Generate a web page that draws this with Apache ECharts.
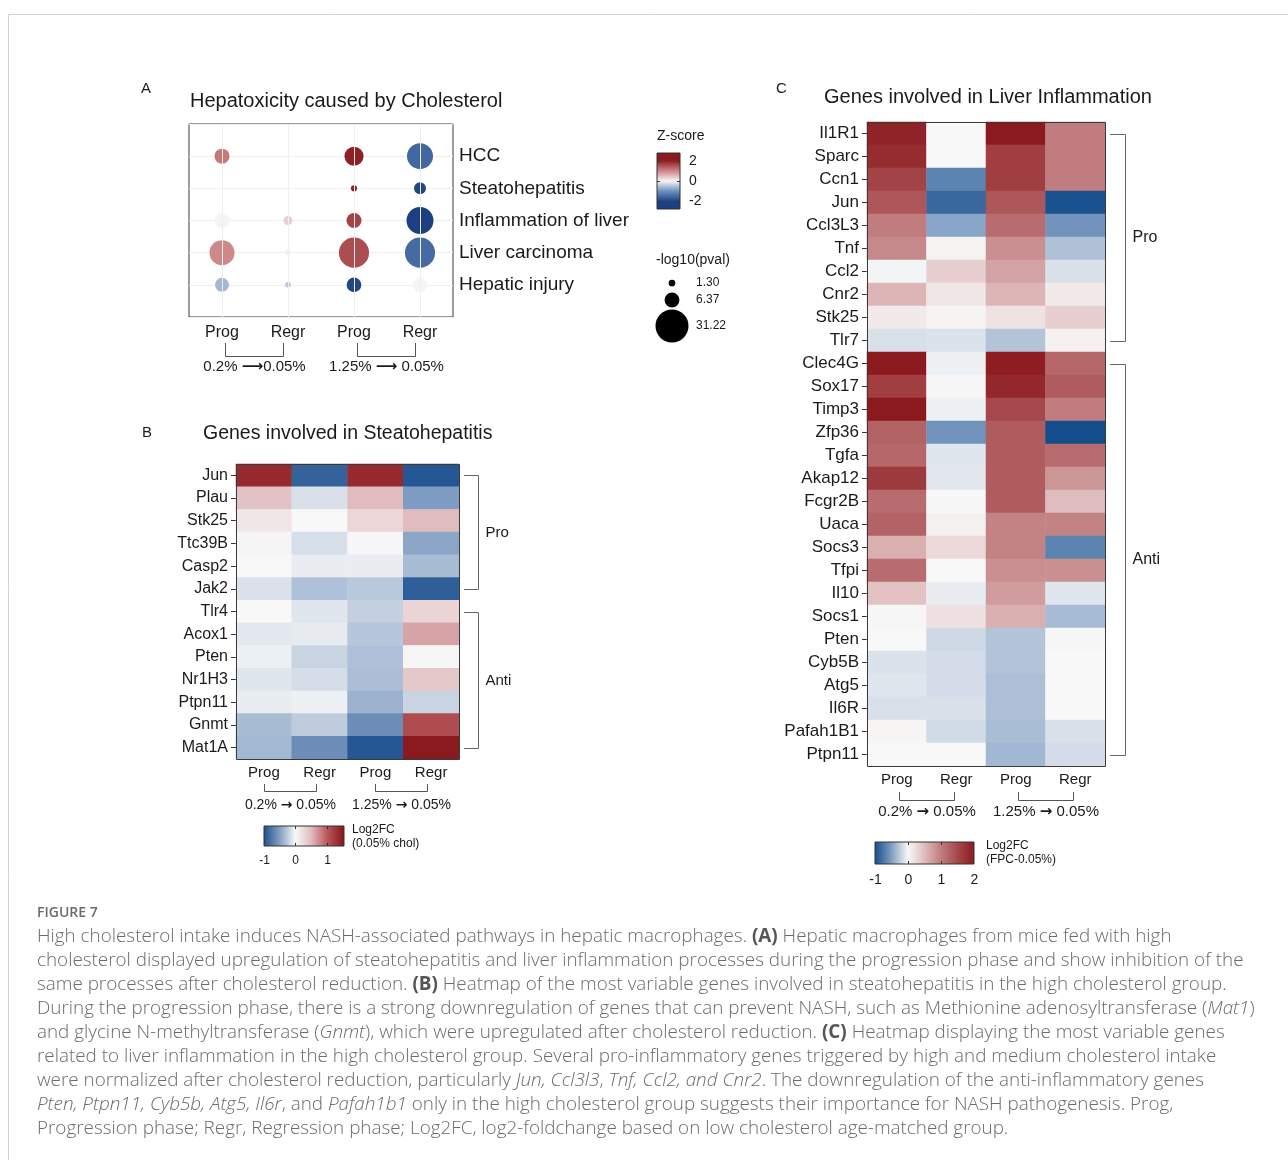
<!DOCTYPE html>
<html><head><meta charset="utf-8">
<script src="https://cdn.jsdelivr.net/npm/echarts@6/dist/echarts.min.js"></script>
<style>html,body{margin:0;padding:0;background:#fff}#c{width:1288px;height:1160px}</style>
</head><body><div id="c"></div>
<script>
// ---------------- DATA ----------------
// Panel A: bubble chart
const aColumns = ['Prog 0.2', 'Regr 0.2', 'Prog 1.25', 'Regr 1.25'];
const colLabels = ['Prog', 'Regr', 'Prog', 'Regr'];
const aTerms = ['HCC', 'Steatohepatitis', 'Inflammation of liver', 'Liver carcinoma', 'Hepatic injury'];
// -log10(pval), rows = terms, cols = columns (null = no dot)
const aPval = [
  [6.5, null, 10.4, 19.4],
  [null, null, 1.1, 4.1],
  [6.5, 2.3, 6.5, 20.9],
  [18.0, 0.8, 26.0, 26.0],
  [5.6, 0.9, 6.2, 6.5]
];
// Z-score
const aZ = [
  [1.1, null, 1.95, -1.5],
  [null, null, 1.9, -1.9],
  [0.0, 0.32, 1.6, -2.0],
  [0.95, -0.05, 1.5, -1.45],
  [-0.6, -0.45, -1.9, 0.0]
];
const sizeLegendValues = [1.30, 6.37, 31.22];
const zTicks = [2, 0, -2];

// Panel B: Steatohepatitis heatmap (Log2FC)
const bGenes = ['Jun','Plau','Stk25','Ttc39B','Casp2','Jak2','Tlr4','Acox1','Pten','Nr1H3','Ptpn11','Gnmt','Mat1A'];
const bValues = [
  [1.37, -0.87, 1.37, -0.95],
  [0.45, -0.13, 0.5, -0.5],
  [0.15, 0.0, 0.28, 0.5],
  [0.03, -0.14, 0.02, -0.45],
  [0.0, -0.06, -0.06, -0.33],
  [-0.12, -0.3, -0.26, -0.9],
  [0.0, -0.1, -0.22, 0.3],
  [-0.09, -0.07, -0.27, 0.62],
  [-0.05, -0.2, -0.3, 0.02],
  [-0.1, -0.15, -0.32, 0.4],
  [-0.06, -0.04, -0.38, -0.2],
  [-0.33, -0.24, -0.6, 1.1],
  [-0.35, -0.6, -0.95, 1.5]
];
const bGroups = [{name:'Pro', from:'Jun', to:'Jak2'}, {name:'Anti', from:'Tlr4', to:'Mat1A'}];
const bTicks = [-1, 0, 1];

// Panel C: Liver inflammation heatmap (Log2FC)
const cGenes = ['Il1R1','Sparc','Ccn1','Jun','Ccl3L3','Tnf','Ccl2','Cnr2','Stk25','Tlr7',
  'Clec4G','Sox17','Timp3','Zfp36','Tgfa','Akap12','Fcgr2B','Uaca','Socs3','Tfpi','Il10','Socs1',
  'Pten','Cyb5B','Atg5','Il6R','Pafah1B1','Ptpn11'];
const cValues = [
  [1.9, 0.0, 2.0, 1.0],
  [1.8, 0.0, 1.6, 1.0],
  [1.55, -0.65, 1.6, 1.0],
  [1.35, -0.82, 1.35, -0.97],
  [1.0, -0.45, 1.15, -0.55],
  [0.9, 0.05, 0.85, -0.3],
  [-0.02, 0.35, 0.7, -0.13],
  [0.55, 0.15, 0.55, 0.12],
  [0.12, 0.04, 0.18, 0.35],
  [-0.13, -0.12, -0.28, 0.06],
  [2.0, -0.04, 1.95, 1.2],
  [1.6, 0.02, 1.85, 1.3],
  [2.0, -0.04, 1.5, 1.0],
  [1.25, -0.55, 1.3, -1.0],
  [1.2, -0.1, 1.3, 1.15],
  [1.65, -0.09, 1.3, 0.8],
  [1.15, 0.01, 1.3, 0.5],
  [1.25, 0.06, 0.95, 0.95],
  [0.6, 0.25, 0.95, -0.65],
  [1.15, 0.0, 0.85, 0.85],
  [0.45, -0.06, 0.75, -0.1],
  [-0.01, 0.2, 0.6, -0.33],
  [0.0, -0.17, -0.28, 0.02],
  [-0.12, -0.15, -0.28, 0.0],
  [-0.1, -0.15, -0.31, 0.0],
  [-0.13, -0.13, -0.31, 0.0],
  [0.03, -0.16, -0.32, -0.13],
  [0.0, 0.0, -0.35, -0.15]
];
const cGroups = [{name:'Pro', from:'Il1R1', to:'Tlr7'}, {name:'Anti', from:'Clec4G', to:'Ptpn11'}];
const cTicks = [-1, 0, 1, 2];

const pairLabelsA = ['0.2% {a|\u27F6}0.05%', '1.25% {a|\u27F6} 0.05%'];
const pairLabels = ['0.2% {a|\u2192} 0.05%', '1.25% {a|\u2192} 0.05%'];

const captionLines = [
  'High cholesterol intake induces NASH-associated pathways in hepatic macrophages. {b|(A)} Hepatic macrophages from mice fed with high',
  'cholesterol displayed upregulation of steatohepatitis and liver inflammation processes during the progression phase and show inhibition of the',
  'same processes after cholesterol reduction. {b|(B)} Heatmap of the most variable genes involved in steatohepatitis in the high cholesterol group.',
  'During the progression phase, there is a strong downregulation of genes that can prevent NASH, such as Methionine adenosyltransferase ({i|Mat1})',
  'and glycine N-methyltransferase ({i|Gnmt}), which were upregulated after cholesterol reduction. {b|(C)} Heatmap displaying the most variable genes',
  'related to liver inflammation in the high cholesterol group. Several pro-inflammatory genes triggered by high and medium cholesterol intake',
  'were normalized after cholesterol reduction, particularly {i|Jun, Ccl3l3}, {i|Tnf, Ccl2, and Cnr2}. The downregulation of the anti-inflammatory genes',
  '{i|Pten, Ptpn11, Cyb5b, Atg5, Il6r}, and {i|Pafah1b1} only in the high cholesterol group suggests their importance for NASH pathogenesis. Prog,',
  'Progression phase; Regr, Regression phase; Log2FC, log2-foldchange based on low cholesterol age-matched group.'
];

// ---------------- STYLE ----------------
const FONT = '"Liberation Sans", Arial, Helvetica, sans-serif';
const CAPFONT = '"Open Sans", "Noto Sans", sans-serif';
const TXT = '#1a1a1a';
const zColors = ['#1b3f80', '#6a8fbf', '#f5f5f7', '#cc8284', '#8b1a1e']; // -2..2
const bColors = ['#1a4f8e', '#7f9dc2', '#f8f8f8', '#e0bcbe', '#b8585c', '#8b1a1e']; // -1..1.5
const cColors = ['#134d8b', '#7d9cc1', '#f8f8f8', '#dfbcbd', '#c07c7e', '#a5474b', '#8b1a1e']; // -1..2

const gA = {left:189, top:124, width:264, height:193};
const gB = {left:236, top:464, width:223, height:295};
const gC = {left:867, top:122, width:238, height:644};

const sizeOf = v => 5.9 * Math.sqrt(v);

// build data
const aData = [];
aPval.forEach((row, r) => row.forEach((p, c) => { if (p !== null) aData.push([c, r + 1, p, aZ[r][c]]); }));
const bData = [];
bValues.forEach((row, r) => row.forEach((v, c) => bData.push([c, bGenes[r], v])));
const cData = [];
cValues.forEach((row, r) => row.forEach((v, c) => cData.push([c, cGenes[r], v])));

const chart = echarts.init(document.getElementById('c'));

function catX(gridIdx, extra) {
  return Object.assign({
    type: 'category', gridIndex: gridIdx, data: aColumns,
    axisLine: {show: false}, axisTick: {show: false}, splitLine: {show: false},
    axisLabel: {formatter: (v, i) => colLabels[i], color: TXT, fontFamily: FONT, fontSize: 15, margin: 6, interval: 0}
  }, extra || {});
}
function geneY(gridIdx, genes, size) {
  return {
    type: 'category', gridIndex: gridIdx, data: genes, inverse: true,
    axisLine: {show: false},
    axisTick: {show: true, length: 5, alignWithLabel: true, interval: 0, lineStyle: {color: '#333'}},
    axisLabel: {color: TXT, fontFamily: FONT, fontSize: size, margin: 8, interval: 0},
    splitLine: {show: false}
  };
}

const option = {
  animation: false,
  backgroundColor: '#fff',
  grid: [
    Object.assign({show: true, borderColor: '#3a3a3a', borderWidth: 1, backgroundColor: 'transparent', outerBoundsMode: 'none'}, gA),
    Object.assign({show: false, outerBoundsMode: 'none'}, gB),
    Object.assign({show: false, outerBoundsMode: 'none'}, gC)
  ],
  xAxis: [
    catX(0, {
      axisTick: {show: true, alignWithLabel: true, length: 5, inside: false, lineStyle: {color: '#333'}},
      axisLabel: {formatter: (v, i) => colLabels[i], color: TXT, fontFamily: FONT, fontSize: 16, margin: 8, interval: 0}
    }),
    catX(1),
    catX(2, {axisLabel: {formatter: (v, i) => colLabels[i], color: TXT, fontFamily: FONT, fontSize: 15, margin: 6, interval: 0}})
  ],
  yAxis: [
    {
      type: 'value', gridIndex: 0, min: 0, max: 6, interval: 1, inverse: true, position: 'right',
      axisLine: {show: false}, axisTick: {show: false},
      splitLine: {show: true, lineStyle: {color: '#efefef', width: 1}},
      axisLabel: {formatter: v => aTerms[v - 1] || '', color: TXT, fontFamily: FONT, fontSize: 19, margin: 6, align: 'left'}
    },
    geneY(1, bGenes, 16),
    geneY(2, cGenes, 17)
  ],
  visualMap: [
    {type: 'continuous', show: false, seriesIndex: 1, dimension: 3, min: -2, max: 2, inRange: {color: zColors}},
    {type: 'continuous', show: false, seriesIndex: 2, dimension: 2, min: -1, max: 1.5, inRange: {color: bColors}},
    {type: 'continuous', show: false, seriesIndex: 3, dimension: 2, min: -1, max: 2, inRange: {color: cColors}}
  ],
  series: [
    {
      type: 'scatter', xAxisIndex: 0, yAxisIndex: 0, data: [], z: 1, silent: true,
      markLine: {
        silent: true, symbol: ['none', 'none'], label: {show: false},
        lineStyle: {color: '#efefef', type: 'solid', width: 1},
        emphasis: {disabled: true},
        data: aColumns.map(c => ({xAxis: c}))
      }
    },
    {
      type: 'scatter', xAxisIndex: 0, yAxisIndex: 0, z: 3, data: aData,
      symbolSize: v => sizeOf(v[2]),
      itemStyle: {opacity: 1},
      emphasis: {disabled: true}
    },
    {
      type: 'heatmap', xAxisIndex: 1, yAxisIndex: 1, data: bData,
      itemStyle: {borderWidth: 0}, emphasis: {disabled: true}
    },
    {
      type: 'heatmap', xAxisIndex: 2, yAxisIndex: 2, data: cData,
      itemStyle: {borderWidth: 0}, emphasis: {disabled: true}
    }
  ]
};
chart.setOption(option);

// ---------------- ANNOTATIONS ----------------
const G = [];
function txt(x, y, text, size, opts) {
  G.push({type: 'text', x: x, y: y, z: 50, silent: true,
    style: Object.assign({text: text, fontFamily: FONT, fontSize: size, fill: TXT, align: 'left', verticalAlign: 'middle'}, opts || {})});
}
function poly(points, color, z) {
  G.push({type: 'polyline', z: z || 50, silent: true, shape: {points: points},
    style: {stroke: color || '#555', lineWidth: 1, fill: null}});
}
function colX(gridIndex, i) { return chart.convertToPixel({gridIndex: gridIndex}, [i, gridIndex === 0 ? 1 : 0])[0]; }
function rowY(gridIndex, gene) { return chart.convertToPixel({gridIndex: gridIndex}, [0, gene])[1]; }

// frame
G.push({type: 'rect', z: 0, silent: true, shape: {x: 8.5, y: 14.5, width: 1300, height: 1200}, style: {fill: null, stroke: '#d4d4d4', lineWidth: 1}});

// panel letters and titles
txt(141, 89, 'A', 15);
txt(190, 101, 'Hepatoxicity caused by Cholesterol', 20);
txt(142, 433, 'B', 15);
txt(203, 434, 'Genes involved in Steatohepatitis', 19.5);
txt(776, 89, 'C', 15);
txt(824, 97, 'Genes involved in Liver Inflammation', 20);

// borders of heatmaps
[gB, gC].forEach(g => G.push({type: 'rect', z: 40, silent: true,
  shape: {x: g.left + 0.5, y: g.top + 0.5, width: g.width, height: g.height},
  style: {fill: null, stroke: '#3a3a3a', lineWidth: 1}}));

// column pair brackets
function pairBrackets(gridIndex, yTop, yBot, yText, labels, size, inL, inR) {
  [[0, 1], [2, 3]].forEach((p, k) => {
    const x0 = Math.round(colX(gridIndex, p[0]) + inL) + 0.5;
    const x1 = Math.round(colX(gridIndex, p[1]) - inR) + 0.5;
    poly([[x0, yTop], [x0, yBot], [x1, yBot], [x1, yTop]], '#555');
    txt((x0 + x1) / 2, yText, labels[k], size, {align: 'center',
      rich: {a: {fontFamily: '"DejaVu Sans", sans-serif', fontSize: size, fill: TXT, fontWeight: 'bold'}}});
  });
}
pairBrackets(0, 343, 356.5, 367, pairLabelsA, 15, 3, 5);
pairBrackets(1, 784, 791.5, 805, pairLabels, 14, 0, 4);
pairBrackets(2, 792, 800.5, 812, pairLabels, 15, 2, 2);

// gene group brackets
function groupBrackets(gridIndex, g, groups, xOff, size) {
  const right = g.left + g.width;
  const xv = Math.round(right + xOff) + 0.5;
  groups.forEach(gr => {
    const y0 = Math.round(rowY(gridIndex, gr.from)) + 0.5;
    const y1 = Math.round(rowY(gridIndex, gr.to)) + 0.5;
    poly([[right + 5, y0], [xv, y0], [xv, y1], [right + 5, y1]], '#666');
    txt(xv + 7, (y0 + y1) / 2, gr.name, size);
  });
}
groupBrackets(1, gB, bGroups, 19, 15);
groupBrackets(2, gC, cGroups, 20, 16);

// colour bars
function stopsFor(colors, vmin, vmax, barMin, barMax, reverse) {
  const n = colors.length, stops = [];
  const off = v => { const o = (v - barMin) / (barMax - barMin); return reverse ? 1 - o : o; };
  const list = colors.map((c, i) => ({v: vmin + i * (vmax - vmin) / (n - 1), c: c}));
  if (barMin < vmin) list.unshift({v: barMin, c: colors[0]});
  if (barMax > vmax) list.push({v: barMax, c: colors[n - 1]});
  list.forEach(s => stops.push({offset: Math.max(0, Math.min(1, off(s.v))), color: s.c}));
  stops.sort((a, b) => a.offset - b.offset);
  return stops;
}
// Z-score (vertical)
(function () {
  const x = 657, y = 153, w = 23, h = 56, bmin = -2.75, bmax = 2.75;
  txt(657, 136, 'Z-score', 14);
  G.push({type: 'rect', z: 30, silent: true, shape: {x: x, y: y, width: w, height: h},
    style: {fill: {type: 'linear', x: 0, y: 0, x2: 0, y2: 1, colorStops: stopsFor(zColors, -2, 2, bmin, bmax, true)}, stroke: '#333', lineWidth: 1}});
  zTicks.forEach(t => {
    const ty = Math.round(y + (bmax - t) / (bmax - bmin) * h) + 0.5;
    poly([[x, ty], [x + 3, ty]], '#333', 31);
    poly([[x + w - 3, ty], [x + w, ty]], '#333', 31);
    txt(x + w + 9, ty, String(t), 14);
  });
  txt(656, 260, '-log10(pval)', 14);
  const cy = [283, 300, 326];
  sizeLegendValues.forEach((v, i) => {
    G.push({type: 'circle', z: 30, silent: true, shape: {cx: 672, cy: cy[i], r: sizeOf(v) / 2}, style: {fill: '#000'}});
    txt(696, cy[i], v.toFixed(2), 12);
  });
})();
// horizontal colour bars
function hBar(x, y, w, h, colors, vmin, vmax, bmin, bmax, ticks, tickY, tickSize, t1, t2, tx) {
  G.push({type: 'rect', z: 30, silent: true, shape: {x: x, y: y, width: w, height: h},
    style: {fill: {type: 'linear', x: 0, y: 0, x2: 1, y2: 0, colorStops: stopsFor(colors, vmin, vmax, bmin, bmax, false)}, stroke: '#333', lineWidth: 1}});
  ticks.forEach(t => {
    const tx0 = Math.round(x + (t - bmin) / (bmax - bmin) * w) + 0.5;
    if (tx0 > x + 1 && tx0 < x + w - 1) {
      poly([[tx0, y], [tx0, y + 3]], '#333', 31);
      poly([[tx0, y + h - 3], [tx0, y + h]], '#333', 31);
    }
    txt(tx0, tickY, String(t), tickSize, {align: 'center'});
  });
  txt(tx, y + 4, t1, 12);
  txt(tx, y + 18, t2, 12);
}
hBar(264, 826, 80, 20, bColors, -1, 1.5, -1, 1.55, bTicks, 861, 12, 'Log2FC', '(0.05% chol)', 352);
hBar(875, 842, 99, 22, cColors, -1, 2, -1, 2, cTicks, 880, 14, 'Log2FC', '(FPC-0.05%)', 986);

// caption
txt(37, 913, 'FIGURE 7', 14, {fontFamily: CAPFONT, fill: '#6b6b6b', fontWeight: 600});
const capStyle = {fontFamily: CAPFONT, fontSize: 18.85, fill: '#6b6b6b', fontWeight: 300};
captionLines.forEach((line, i) => {
  G.push({type: 'text', x: 37, y: 937 + i * 24, z: 50, silent: true,
    style: Object.assign({text: line, verticalAlign: 'middle', align: 'left',
      rich: {
        b: Object.assign({}, capStyle, {fontWeight: 700, fill: '#555'}),
        i: Object.assign({}, capStyle, {fontStyle: 'italic'})
      }}, capStyle)});
});

chart.setOption({graphic: {elements: G}});
</script>
</body></html>
